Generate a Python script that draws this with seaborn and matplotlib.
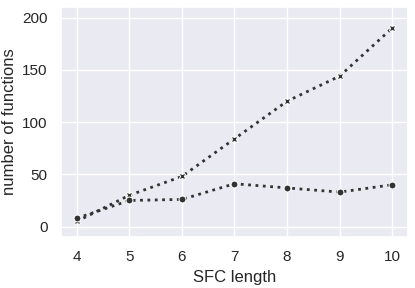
import matplotlib
matplotlib.use("Agg")
import matplotlib.pyplot as plt
import seaborn as sns
import pandas as pd

sfc_length = [4, 5, 6, 7, 8, 9, 10]
series_x = [5, 30, 48, 84, 120, 144, 190]
series_o = [8, 25, 26, 41, 37, 33, 40]

sns.set_theme(style="darkgrid", font_scale=1.0)
plt.rcParams['font.family'] = ['Arial', 'Liberation Sans', 'DejaVu Sans']

fig, ax = plt.subplots(figsize=(4.15, 2.88), dpi=100)
sns.lineplot(x=sfc_length, y=series_x, ax=ax, color="#333333", linestyle=":",
             linewidth=2, marker="X", markersize=5)
sns.lineplot(x=sfc_length, y=series_o, ax=ax, color="#333333", linestyle=":",
             linewidth=2, marker="o", markersize=5)
ax.set_xlabel("SFC length")
ax.set_ylabel("number of functions")
ax.set_xticks(sfc_length)
ax.set_yticks([0, 50, 100, 150, 200])
ax.set_ylim(-10, 210)
fig.subplots_adjust(left=0.147, right=0.983, top=0.975, bottom=0.177)
fig.savefig("out.png", dpi=100)
